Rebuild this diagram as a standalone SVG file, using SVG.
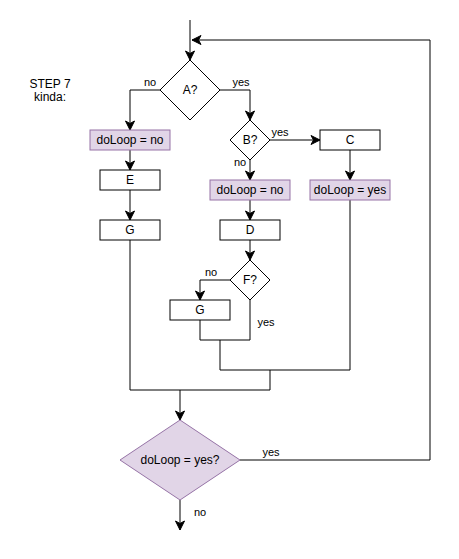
<svg xmlns="http://www.w3.org/2000/svg" width="459" height="559" viewBox="0 0 459 559">
<defs>
<marker id="arr" markerUnits="userSpaceOnUse" markerWidth="12" markerHeight="12" viewBox="-10 -6 12 12" refX="0" refY="0" orient="auto">
<path d="M0,0 L-9,-4.5 L-6.5,0 L-9,4.5 Z" fill="#000" stroke="#000" stroke-width="1"/>
</marker>
</defs>
<style>
.box{fill:#fff;stroke:#000;stroke-width:1}
.pur{fill:#e1d5e7;stroke:#9673a6;stroke-width:1}
.t{font-family:"Liberation Sans",Arial,sans-serif;font-size:12px;fill:#000;text-anchor:middle}
.l{font-family:"Liberation Sans",Arial,sans-serif;font-size:11px;fill:#000;text-anchor:middle}
.c{fill:none;stroke:#000;stroke-width:1}
</style>
<rect width="459" height="559" fill="#fff"/>
<g id="connectors">
<path class="c" d="M190,20 L190,60" marker-end="url(#arr)"/>
<path class="c" d="M240,460 L430,460 L430,40 L192,40" marker-end="url(#arr)"/>
<path class="c" d="M160,90 L130,90 L130,130" marker-end="url(#arr)"/>
<path class="c" d="M220,90 L250,90 L250,120" marker-end="url(#arr)"/>
<path class="c" d="M270,140 L320,140" marker-end="url(#arr)"/>
<path class="c" d="M250,160 L250,180" marker-end="url(#arr)"/>
<path class="c" d="M350,150 L350,180" marker-end="url(#arr)"/>
<path class="c" d="M130,150 L130,170" marker-end="url(#arr)"/>
<path class="c" d="M130,190 L130,220" marker-end="url(#arr)"/>
<path class="c" d="M250,200 L250,220" marker-end="url(#arr)"/>
<path class="c" d="M250,240 L250,260" marker-end="url(#arr)"/>
<path class="c" d="M230,280 L200,280 L200,300" marker-end="url(#arr)"/>
<path class="c" d="M250,300 L250,340 L200,340 L200,320"/>
<path class="c" d="M350,200 L350,370 L220,370 L220,340"/>
<path class="c" d="M130,240 L130,390 L270,390 L270,370"/>
<path class="c" d="M180,390 L180,420" marker-end="url(#arr)"/>
<path class="c" d="M180,500 L180,530" marker-end="url(#arr)"/>
<text class="l" x="150" y="86">no</text>
<text class="l" x="241" y="86">yes</text>
<text class="l" x="280" y="136">yes</text>
<text class="l" x="240" y="166">no</text>
<text class="l" x="211" y="276">no</text>
<text class="l" x="266" y="326">yes</text>
<text class="l" x="271" y="456">yes</text>
<text class="l" x="200" y="516">no</text>
</g>
<g id="label-step"><text class="t" x="50" y="88">STEP 7</text><text class="t" x="50" y="101">kinda:</text></g>
<g id="A"><path class="box" d="M190,60 L220,90 L190,120 L160,90 Z"/><text class="t" x="190" y="94">A?</text></g>
<g id="doLoopNo1"><rect class="pur" x="90" y="130" width="80" height="20"/><text class="t" x="130" y="144">doLoop = no</text></g>
<g id="E"><rect class="box" x="100" y="170" width="60" height="20"/><text class="t" x="130" y="184">E</text></g>
<g id="G1"><rect class="box" x="100" y="220" width="60" height="20"/><text class="t" x="130" y="234">G</text></g>
<g id="B"><path class="box" d="M250,120 L270,140 L250,160 L230,140 Z"/><text class="t" x="250" y="144">B?</text></g>
<g id="C"><rect class="box" x="320" y="130" width="60" height="20"/><text class="t" x="350" y="144">C</text></g>
<g id="doLoopNo2"><rect class="pur" x="210" y="180" width="80" height="20"/><text class="t" x="250" y="194">doLoop = no</text></g>
<g id="doLoopYes"><rect class="pur" x="310" y="180" width="80" height="20"/><text class="t" x="350" y="194">doLoop = yes</text></g>
<g id="D"><rect class="box" x="220" y="220" width="60" height="20"/><text class="t" x="250" y="234">D</text></g>
<g id="F"><path class="box" d="M250,260 L270,280 L250,300 L230,280 Z"/><text class="t" x="250" y="284">F?</text></g>
<g id="G2"><rect class="box" x="170" y="300" width="60" height="20"/><text class="t" x="200" y="314">G</text></g>
<g id="decision"><path class="pur" d="M180,420 L240,460 L180,500 L120,460 Z"/><text class="t" x="180" y="464">doLoop = yes?</text></g>
</svg>
